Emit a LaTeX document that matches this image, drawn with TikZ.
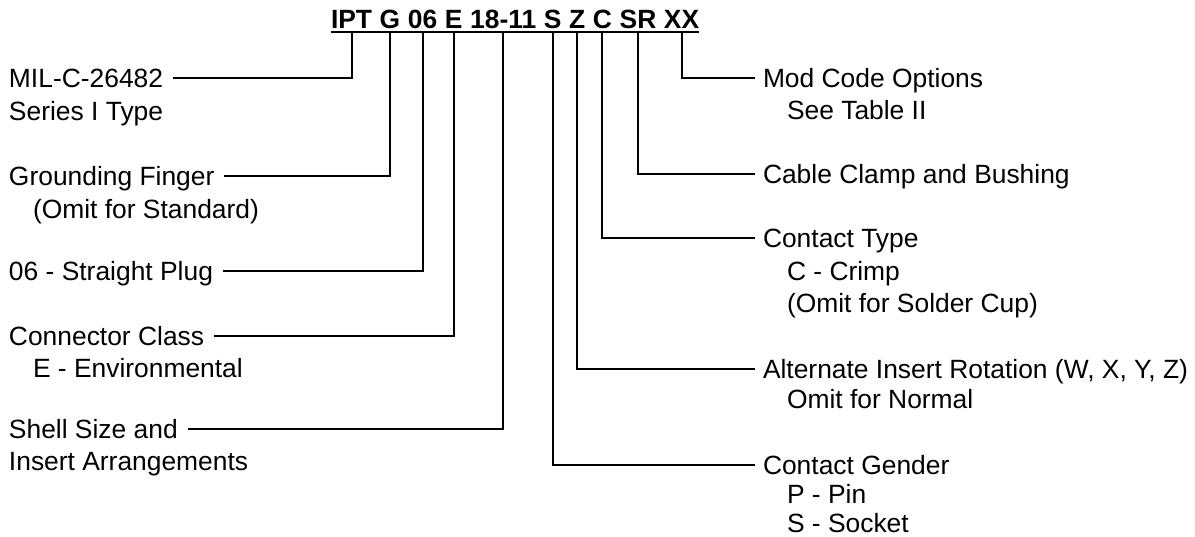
\documentclass[tikz,border=0pt]{standalone}
\usepackage{fontspec}
\setmainfont{Liberation Sans}
\tikzset{
  lbl/.style={font=\fontsize{26.4}{32}\selectfont, inner sep=0pt, outer sep=0pt,
    text height=18.9pt, text depth=0pt, anchor=base west},
  code/.style={lbl, font=\fontsize{26.4}{32}\selectfont\bfseries},
  conn/.style={draw=black, line width=2pt},
  gap/.style={xshift=7.65pt},
}
\begin{document}
\begin{tikzpicture}[x=1pt,y=-1pt]
\useasboundingbox (0,0) rectangle (1195,536);
% part number
\node[code] (ipt) at (331,28) {IPT};
\node[code] (g)   at ([gap]ipt.base east) {G};
\node[code] (os)  at ([gap]g.base east) {06};
\node[code] (e)   at ([gap]os.base east) {E};
\node[code] (sz)  at ([gap]e.base east) {18-11};
\node[code] (s)   at ([gap]sz.base east) {S};
\node[code] (z)   at ([gap]s.base east) {Z};
\node[code] (c)   at ([gap]z.base east) {C};
\node[code] (sr)  at ([gap]c.base east) {SR};
\node[code] (xx)  at ([gap]sr.base east) {XX};
\coordinate (ul) at (0,32);
\draw[conn] (ipt.base west |- ul) -- (xx.base east |- ul);
% left labels
\node[lbl] (mil) at (9,87)  {MIL-C-26482};
\node[lbl] (ser) at (9,120) {Series I Type};
\node[lbl] (gf)  at (9,185) {Grounding Finger};
\node[lbl] (gfo) at (33,218) {(Omit for Standard)};
\node[lbl] (sp)  at (9,280) {06 - Straight Plug};
\node[lbl] (cc)  at (9,345) {Connector Class};
\node[lbl] (cce) at (33,377) {E - Environmental};
\node[lbl] (ss)  at (9,438) {Shell Size and};
\node[lbl] (ssi) at (9,470) {Insert Arrangements};
% right labels
\node[lbl] (mod) at (763,87)  {Mod Code Options};
\node[lbl] (see) at (787,119) {See Table II};
\node[lbl] (ccb) at (763,183) {Cable Clamp and Bushing};
\node[lbl] (ct)  at (763,247) {Contact Type};
\node[lbl] (ctc) at (787,280) {C - Crimp};
\node[lbl] (cto) at (787,312) {(Omit for Solder Cup)};
\node[lbl] (air) at (763,378) {Alternate Insert Rotation (W, X, Y, Z)};
\node[lbl] (airo) at (787,408) {Omit for Normal};
\node[lbl] (cg)  at (763,474) {Contact Gender};
\node[lbl] (cgp) at (787,503) {P - Pin};
\node[lbl] (cgs) at (787,532) {S - Socket};
% left connectors
\draw[conn] ([xshift=10pt]mil.east) -| (ipt |- ul);
\draw[conn] ([xshift=10pt]gf.east)  -| (g |- ul);
\draw[conn] ([xshift=10pt]sp.east)  -| (os |- ul);
\draw[conn] ([xshift=10pt]cc.east)  -| (e |- ul);
\draw[conn] ([xshift=10pt]ss.east)  -| (sz |- ul);
% right connectors
\draw[conn] (xx |- ul) |- ([xshift=-8pt]mod.west);
\draw[conn] (sr |- ul) |- ([xshift=-8pt]ccb.west);
\draw[conn] (c |- ul)  |- ([xshift=-8pt]ct.west);
\draw[conn] (z |- ul)  |- ([xshift=-8pt]air.west);
\draw[conn] (s |- ul)  |- ([xshift=-8pt]cg.west);
\end{tikzpicture}
\end{document}
